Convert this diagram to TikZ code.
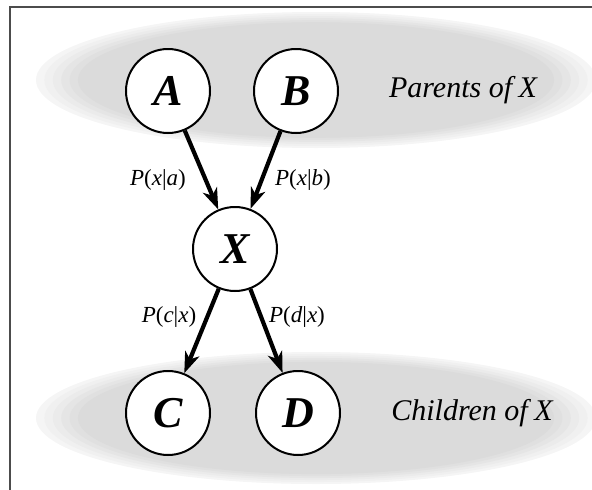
\documentclass[tikz,border=0pt]{standalone}
\usepackage{fontspec}
\setmainfont{Liberation Serif}
\usetikzlibrary{arrows.meta}
\tikzset{
  var/.style={circle,draw=black,line width=2pt,fill=white,minimum size=84pt,inner sep=0pt,
    font=\fontsize{44}{48}\selectfont\bfseries\itshape},
  edge/.style={line width=4.2pt,-{Stealth[length=21pt,width=15pt,inset=6pt]}},
  prob/.style={font=\fontsize{23}{25}\selectfont,inner sep=0pt},
  grouplabel/.style={font=\fontsize{30}{33}\selectfont\itshape,inner sep=0pt}
}
\begin{document}
\begin{tikzpicture}[x=1pt,y=-1pt]
\useasboundingbox (0,0) rectangle (592,490);
% soft halftone-like regions
\foreach \r/\c in {1.0/4,0.97/6,0.94/8,0.91/10,0.88/12,0.85/14}{
  \fill[black!\c] (316,80) ellipse ({280*\r} and {68*\r});
  \fill[black!\c] (316,418) ellipse ({280*\r} and {66*\r});
}
% frame (top and left)
\draw[line width=2.2pt,black!70] (10,490) -- (10,7) -- (592,7);
% nodes
\node[var] (A) at (168,91) {A};
\node[var] (B) at (296,91) {B};
\node[var] (X) at (235,249) {X};
\node[var] (C) at (168,413) {C};
\node[var] (D) at (298,413) {D};
% edges
\draw[edge] (A) -- (X);
\draw[edge] (B) -- (X);
\draw[edge] (X) -- (C);
\draw[edge] (X) -- (D);
% edge labels
\node[prob] (la) at (158,180) {\textit{P}(\textit{x}|\textit{a})};
\node[prob] (lb) at (303,180) {\textit{P}(\textit{x}|\textit{b})};
\node[prob] (lc) at (169,317) {\textit{P}(\textit{c}|\textit{x})};
\node[prob] (ld) at (297,317) {\textit{P}(\textit{d}|\textit{x})};
% group labels
\node[grouplabel] (pl) at (463,90) {Parents of \kern-1pt X};
\node[grouplabel] (cl) at (472,413) {Children of \kern-1pt X};
\end{tikzpicture}
\end{document}
